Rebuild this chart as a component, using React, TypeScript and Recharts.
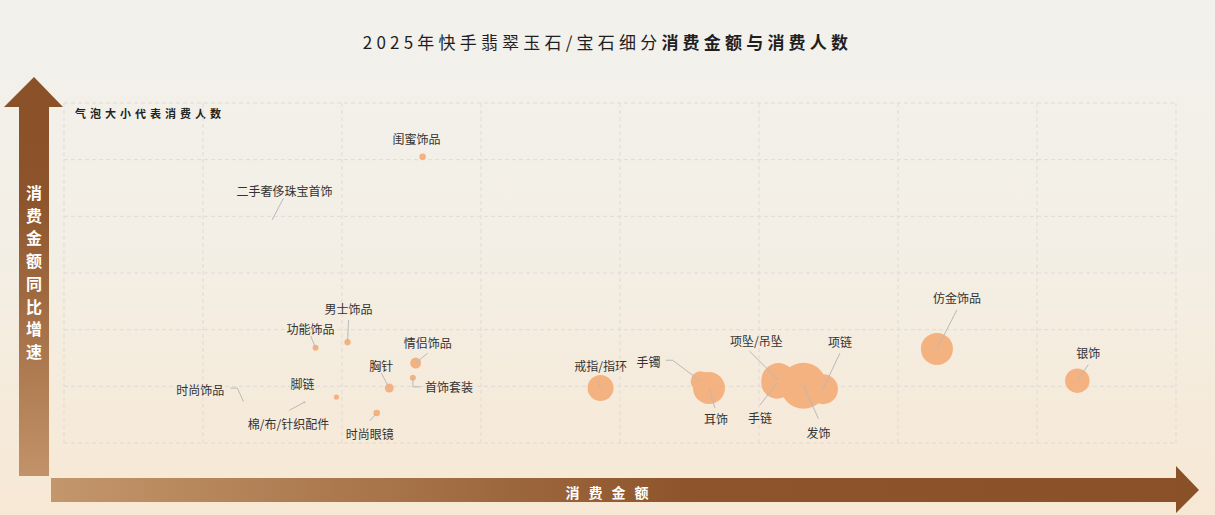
import { ScatterChart, Scatter, XAxis, YAxis, ZAxis, CartesianGrid } from 'recharts'

// ─── Data ─────────────────────────────────────────────────────────────────────

const CATEGORIES = [
  '闺蜜饰品', '二手奢侈珠宝首饰', '男士饰品', '功能饰品', '情侣饰品', '胸针', '首饰套装',
  '脚链', '棉/布/针织配件', '时尚饰品', '时尚眼镜', '戒指/指环', '手镯', '耳饰',
  '项坠/吊坠', '手链', '发饰', '项链', '仿金饰品', '银饰',
]
// 消费金额 (x)
const AMOUNT = [258, 150, 204, 181, 253, 234, 251, 196, 173, 129, 225, 386, 458, 464, 514, 513, 532, 546, 628, 729]
// 消费金额同比增速 (y)
const GROWTH = [505, 395, 178, 168, 141, 97, 115, 81, 72, 74, 53, 97, 109, 97, 111, 106, 101, 95, 166, 110]
// 消费人数 (bubble size)
const BUYERS = [11, 0.3, 10, 9, 30, 20, 9, 7, 1, 0.3, 11, 169, 100, 256, 289, 250, 529, 225, 256, 150]

const X_TICKS = [0, 100, 200, 300, 400, 500, 600, 700, 800]
const Y_TICKS = [0, 100, 200, 300, 400, 500, 600]

// ─── Label placement (offsets from bubble centre, leader line elbows) ────────

const LABEL_LAYOUT: Record<string, { dx: number; dy: number; line?: [number, number][] }> = {
  '闺蜜饰品':        { dx: -6, dy: -18 },
  '二手奢侈珠宝首饰': { dx: 12, dy: -29, line: [[11, -21]] },
  '男士饰品':        { dx: 1, dy: -34, line: [[1, -22]] },
  '功能饰品':        { dx: -5, dy: -19, line: [[-5, -12]] },
  '情侣饰品':        { dx: 12, dy: -21, line: [[12, -10]] },
  '胸针':            { dx: -8, dy: -23, line: [[-8, -15]] },
  '首饰套装':        { dx: 36, dy: 9, line: [[0, 9], [8, 9]] },
  '脚链':            { dx: -34, dy: -14 },
  '棉/布/针织配件':   { dx: -16, dy: 21, line: [[-15, 8]] },
  '时尚饰品':        { dx: -43, dy: -12, line: [[-6, -13], [-13, -13]] },
  '时尚眼镜':        { dx: -7, dy: 21, line: [[-7, 8]] },
  '戒指/指环':       { dx: 0, dy: -23, line: [[-2, -7]] },
  '手镯':            { dx: -52, dy: -20, line: [[-28, -21], [-35, -21]] },
  '耳饰':            { dx: 7, dy: 30, line: [[6, 20]] },
  '项坠/吊坠':       { dx: -22, dy: -40, line: [[-29, -29]] },
  '手链':            { dx: -17, dy: 35, line: [[-17, 22]] },
  '发饰':            { dx: 15, dy: 47, line: [[15, 33]] },
  '项链':            { dx: 17, dy: -48, line: [[17, -36]] },
  '仿金饰品':        { dx: 20, dy: -51, line: [[20, -39]] },
  '银饰':            { dx: 11, dy: -28, line: [[11, -16]] },
}

const data = CATEGORIES.map((name, i) => ({
  name,
  amount: AMOUNT[i],
  growth: GROWTH[i],
  buyers: BUYERS[i],
}))

const FONT = '"Noto Sans CJK SC", "Noto Sans", sans-serif'
const BUBBLE = '#F5B281'

// ─── Shapes ───────────────────────────────────────────────────────────────────

function Bubble(props: any) {
  const { cx, cy, width } = props
  if (cx == null || cy == null) return null
  return <circle cx={cx} cy={cy} r={Math.max(width / 2, 0)} fill={BUBBLE} />
}

function BubbleLabel(props: any) {
  const { cx, cy, payload } = props
  const layout = LABEL_LAYOUT[payload.name]
  if (!layout || cx == null) return null
  const pts = layout.line ? [[0, 0], ...layout.line] : null
  return (
    <g>
      {pts && (
        <polyline
          points={pts.map(([x, y]) => `${cx + x},${cy + y}`).join(' ')}
          fill="none"
          stroke="#b9b9b9"
          strokeWidth={1}
        />
      )}
      <text
        x={cx + layout.dx}
        y={cy + layout.dy}
        textAnchor="middle"
        dominantBaseline="central"
        fontSize={12}
        fill="#333"
        style={{ fontFamily: FONT }}
      >
        {payload.name}
      </text>
    </g>
  )
}

// ─── Decorations ──────────────────────────────────────────────────────────────

function Arrows() {
  return (
    <svg width={1215} height={515} style={{ position: 'absolute', left: 0, top: 0 }}>
      <defs>
        <linearGradient id="vArrow" x1="0" y1="0" x2="0" y2="1">
          <stop offset="0%" stopColor="#8A5028" />
          <stop offset="30%" stopColor="#8D542B" />
          <stop offset="100%" stopColor="#C29268" />
        </linearGradient>
        <linearGradient id="hArrow" x1="0" y1="0" x2="1" y2="0">
          <stop offset="0%" stopColor="#C4966B" />
          <stop offset="55%" stopColor="#8E552C" />
          <stop offset="100%" stopColor="#8A5028" />
        </linearGradient>
      </defs>
      <polygon points="4,107 34,77 63,107 49,107 49,476 19,476 19,107" fill="url(#vArrow)" />
      <polygon points="51,478 1176,478 1176,466 1199,490 1176,513 1176,502 51,502" fill="url(#hArrow)" />
    </svg>
  )
}

function VerticalTitle() {
  const chars = '消费金额同比增速'.split('')
  return (
    <div
      style={{
        position: 'absolute', left: 19, width: 30, top: 181,
        display: 'flex', flexDirection: 'column', alignItems: 'center',
        color: '#fff', fontWeight: 700, fontSize: 16, lineHeight: '22.7px', fontFamily: FONT,
      }}
    >
      {chars.map((c, i) => <span key={i}>{c}</span>)}
    </div>
  )
}

// ─── Component ────────────────────────────────────────────────────────────────

export default function App() {
  return (
    <div
      style={{
        position: 'absolute', left: 0, top: 0, width: 1215, height: 515, overflow: 'hidden',
        background: 'linear-gradient(to bottom, #F2F1EC 0%, #F3EFE6 45%, #F7E8D4 100%)',
        fontFamily: FONT,
      }}
    >
      <Arrows />
      <VerticalTitle />

      <div
        style={{
          position: 'absolute', left: 0, width: 1215, top: 30, textAlign: 'center',
          fontSize: 17, letterSpacing: 4.2, color: '#1f1f1f', lineHeight: '24px',
        }}
      >
        2025年快手翡翠玉石/宝石细分<span style={{ fontWeight: 700 }}>消费金额与消费人数</span>
      </div>

      <div
        style={{
          position: 'absolute', left: 75, top: 105, fontSize: 11, fontWeight: 700,
          letterSpacing: 4, color: '#222', lineHeight: '16px',
        }}
      >
        气泡大小代表消费人数
      </div>

      <div
        style={{
          position: 'absolute', left: 0, width: 1215, top: 482, textAlign: 'center',
          paddingLeft: 4, fontSize: 14, fontWeight: 700, letterSpacing: 9, color: '#fff', lineHeight: '20px',
        }}
      >
        消费金额
      </div>

      <div style={{ position: 'absolute', left: 0, top: 0 }}>
        <ScatterChart width={1215} height={515} margin={{ top: 103, right: 39, bottom: 72, left: 64 }}>
          <CartesianGrid stroke="#DEDBD5" strokeDasharray="4 3" />
          <XAxis type="number" dataKey="amount" domain={[0, 800]} ticks={X_TICKS} hide />
          <YAxis type="number" dataKey="growth" domain={[0, 600]} ticks={Y_TICKS} hide />
          <ZAxis type="number" dataKey="buyers" domain={[0, 1000]} range={[0, 1000 * Math.PI]} />
          <Scatter data={data} shape={Bubble} isAnimationActive={false} />
          <Scatter data={data} shape={BubbleLabel} isAnimationActive={false} />
        </ScatterChart>
      </div>
    </div>
  )
}
